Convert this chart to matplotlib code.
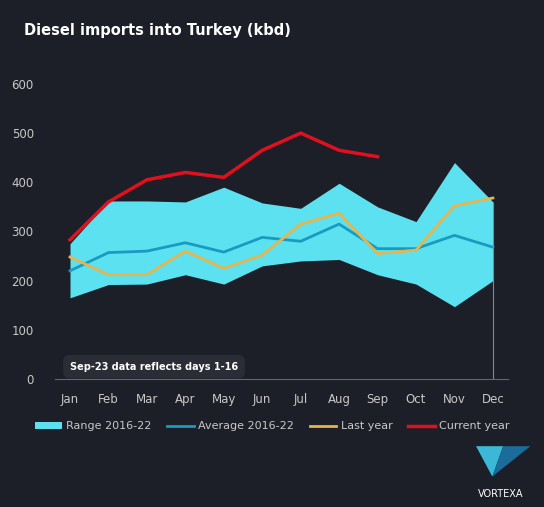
import matplotlib
matplotlib.use("Agg")
import matplotlib.pyplot as plt
from matplotlib.patches import Polygon

months = ["Jan", "Feb", "Mar", "Apr", "May", "Jun", "Jul", "Aug", "Sep", "Oct", "Nov", "Dec"]
range_hi = [275, 362, 362, 360, 390, 358, 347, 398, 350, 320, 440, 360]
range_lo = [165, 192, 193, 212, 193, 230, 240, 243, 212, 193, 147, 200]
average = [220, 257, 260, 277, 258, 288, 280, 315, 265, 265, 292, 268]
last_year = [248, 212, 212, 260, 225, 252, 315, 337, 255, 262, 352, 368]
current = [283, 360, 405, 420, 410, 465, 500, 465, 452]

bg = "#1c1f28"
fig = plt.figure(figsize=(5.44, 5.07), dpi=100, facecolor=bg)
ax = fig.add_axes([0.1004, 0.2525, 0.834, 0.582], facecolor=bg)
x = list(range(12))

ax.fill_between(x, range_lo, range_hi, color="#5ce1f0", lw=0, label="Range 2016-22")
ax.plot(x, average, color="#1a9ac0", lw=2, label="Average 2016-22")
ax.plot(x, last_year, color="#e8b44c", lw=2, label="Last year")
ax.plot(x[:len(current)], current, color="#e0101e", lw=2.5, label="Current year")
ax.vlines(11, 0, range_hi[11], color="#888888", lw=0.8)

ax.set_xlim(-0.4, 11.4)
ax.set_ylim(0, 600)
ax.set_yticks(range(0, 601, 100))
ax.set_xticks(x)
ax.set_xticklabels(months)
for s in ax.spines.values():
    s.set_visible(False)
ax.spines["bottom"].set_visible(True)
ax.spines["bottom"].set_color("#666666")
ax.tick_params(colors="#c8c8c8", labelsize=8.5, length=0)
ax.tick_params(axis="x", pad=10)
ax.tick_params(axis="y", pad=15)

ax.text(0, 25, "Sep-23 data reflects days 1-16", color="white", fontsize=7,
        fontweight="bold", va="center",
        bbox=dict(boxstyle="round,pad=0.7", fc="#2a2d36", ec="none"))

fig.text(0.045, 0.93, "Diesel imports into Turkey (kbd)", color="white",
         fontsize=10.5, fontweight="bold")

leg = ax.legend(loc="upper center", bbox_to_anchor=(0.48, -0.11), ncol=4,
                frameon=False, fontsize=8, labelcolor="#c8c8c8",
                handlelength=2.4, columnspacing=1.4, handletextpad=0.4)

fig.patches.append(Polygon([[0.875, 0.12], [0.925, 0.12], [0.905, 0.06]],
                           closed=True, transform=fig.transFigure, fc="#3bb8d8"))
fig.patches.append(Polygon([[0.925, 0.12], [0.975, 0.12], [0.905, 0.06]],
                           closed=True, transform=fig.transFigure, fc="#1b6c9a"))
fig.text(0.92, 0.02, "VORTEXA", color="white", fontsize=7, ha="center")

fig.savefig("out.png", facecolor=bg)
